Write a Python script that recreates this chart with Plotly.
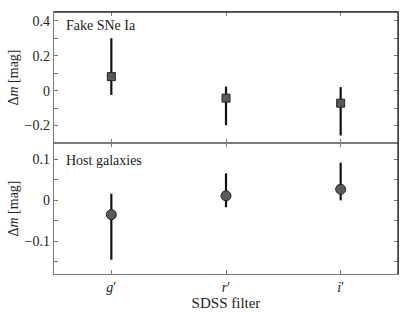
import plotly.graph_objects as go
from plotly.subplots import make_subplots

filters = ["g′", "r′", "i′"]
filter_labels = ["<i>g</i>′", "<i>r</i>′", "<i>i</i>′"]
xpos = [1, 2, 3]

sne_dm = [0.080, -0.043, -0.072]
sne_err_plus = [0.220, 0.066, 0.092]
sne_err_minus = [0.105, 0.155, 0.185]

host_dm = [-0.035, 0.011, 0.027]
host_err_plus = [0.051, 0.055, 0.065]
host_err_minus = [0.110, 0.028, 0.027]

font = "Liberation Serif"
axcol = "#7a7a7a"
darkcol = "#333333"
tf = dict(family=font, size=14, color="#222")

fig = make_subplots(rows=2, cols=1, shared_xaxes=True, vertical_spacing=0)

fig.add_trace(go.Scatter(
    x=xpos, y=sne_dm, mode="markers",
    marker=dict(symbol="square", size=8, color="#5a5a5a", line=dict(color="#222", width=1)),
    error_y=dict(type="data", array=sne_err_plus, arrayminus=sne_err_minus,
                 thickness=2.2, width=0, color="#111"),
    showlegend=False, hoverinfo="skip"), row=1, col=1)

fig.add_trace(go.Scatter(
    x=xpos, y=host_dm, mode="markers",
    marker=dict(symbol="circle", size=10, color="#5a5a5a", line=dict(color="#222", width=1)),
    error_y=dict(type="data", array=host_err_plus, arrayminus=host_err_minus,
                 thickness=2.2, width=0, color="#111"),
    showlegend=False, hoverinfo="skip"), row=2, col=1)

common_x = dict(range=[0.5, 3.5], tickvals=xpos, ticktext=filter_labels, tickfont=tf,
                ticks="inside", ticklen=4, tickcolor=axcol, showline=True, linecolor=axcol,
                linewidth=1.4, mirror="ticks", showgrid=False, zeroline=False, automargin=False)
fig.update_xaxes(**common_x, row=1, col=1)
fig.update_xaxes(**common_x, row=2, col=1)
fig.update_xaxes(showticklabels=False, row=1, col=1)
fig.update_xaxes(title=dict(text="SDSS filter", standoff=0, font=dict(family=font, size=15, color="#222")),
                 row=2, col=1)

common_y = dict(ticks="inside", ticklen=4, tickcolor=axcol, showline=True, linecolor=axcol, tickfont=tf,
                linewidth=1.4, mirror="ticks", showgrid=False, zeroline=False, automargin=False,
                title=dict(text="Δ<i>m</i> [mag]", standoff=2, font=dict(family=font, size=14, color="#222")))
fig.update_yaxes(**common_y, range=[-0.30, 0.45], dtick=0.2, tick0=0,
                 minor=dict(dtick=0.1, tick0=0, ticks="inside", ticklen=4, tickcolor=axcol),
                 row=1, col=1)
fig.update_yaxes(**common_y, range=[-0.18, 0.14], dtick=0.1, tick0=0,
                 minor=dict(dtick=0.05, tick0=0, ticks="inside", ticklen=4, tickcolor=axcol),
                 row=2, col=1)

# darker top and right frame edges
fig.add_shape(type="line", xref="paper", yref="paper", x0=0, x1=1, y0=1, y1=1,
              line=dict(color=darkcol, width=1.4))
fig.add_shape(type="line", xref="paper", yref="paper", x0=1, x1=1, y0=0, y1=1,
              line=dict(color=darkcol, width=1.4))

fig.add_annotation(text="Fake SNe Ia", xref="x domain", yref="y domain", x=0.03, y=0.9,
                   xanchor="left", yanchor="middle", showarrow=False,
                   font=dict(family=font, size=14, color="#222"))
fig.add_annotation(text="Host galaxies", xref="x2 domain", yref="y2 domain", x=0.03, y=0.87,
                   xanchor="left", yanchor="middle", showarrow=False,
                   font=dict(family=font, size=14, color="#222"))

fig.update_layout(width=415, height=312, margin=dict(l=54, r=17, t=12, b=38),
                  paper_bgcolor="white", plot_bgcolor="white",
                  font=dict(family=font, size=14, color="#222"))

fig.write_html("out.html", config={"displayModeBar": False},
               post_script="document.body.style.margin='0';document.body.style.overflow='hidden';")
